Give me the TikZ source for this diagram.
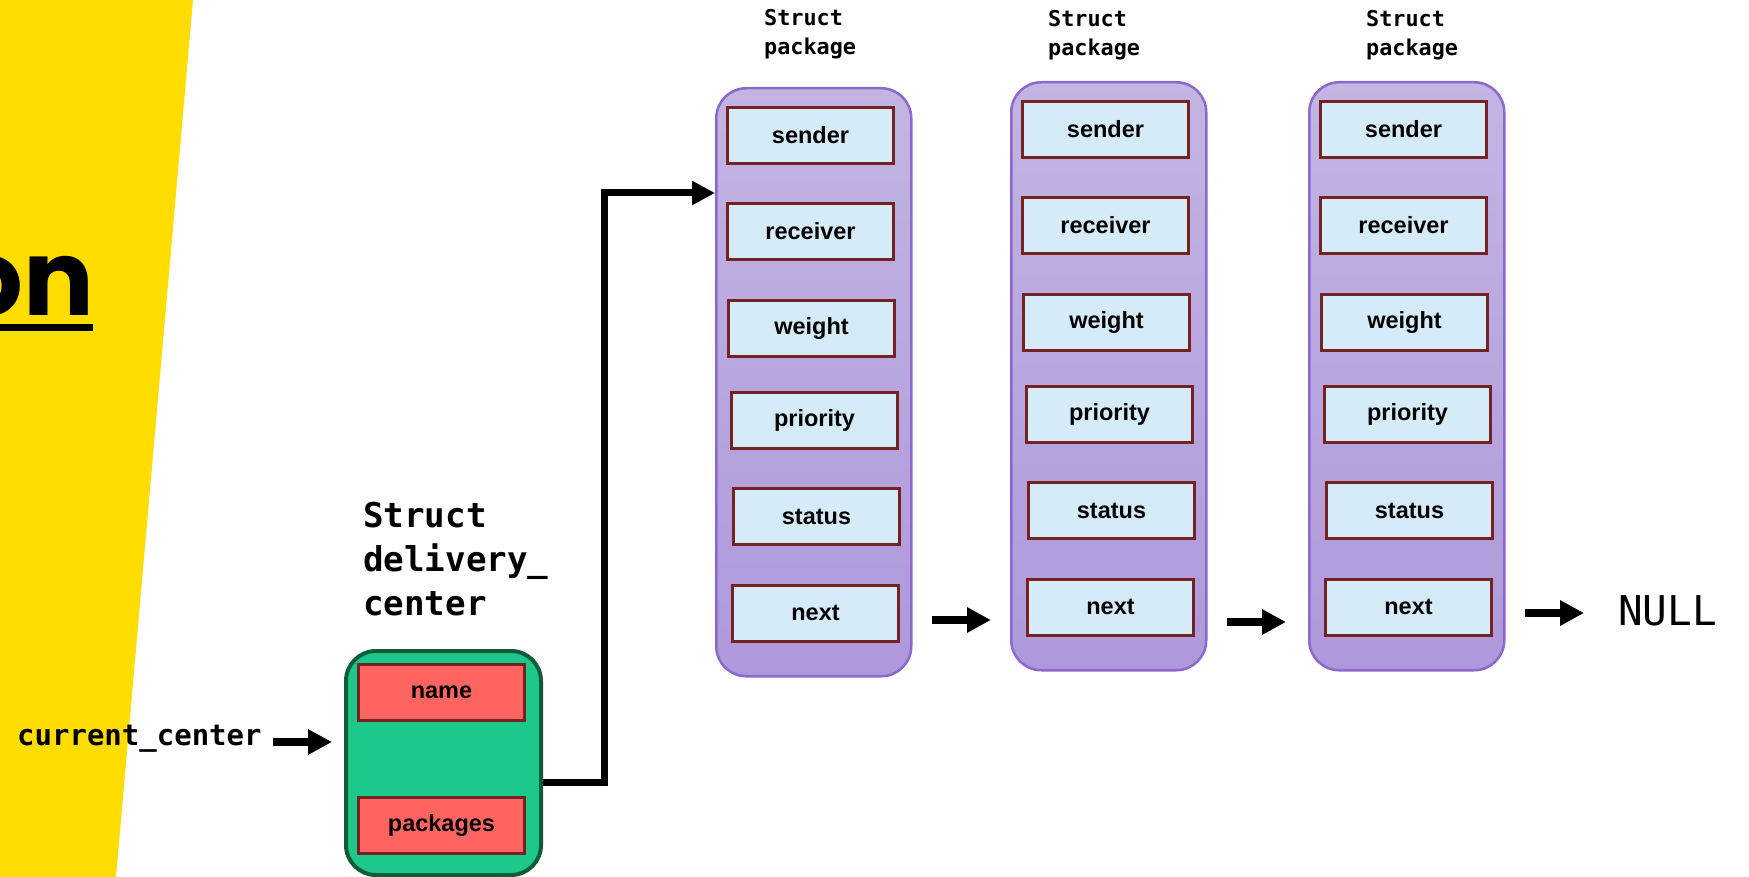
\documentclass[tikz,border=0pt]{standalone}
\usepackage{fontspec}
\setmainfont{Liberation Sans}
\newfontfamily\monob{DejaVu Sans Mono}
\newfontfamily\popp{Poppins}
\usetikzlibrary{arrows.meta,calc}
\definecolor{yel}{HTML}{FFDD00}
\definecolor{grfill}{HTML}{1DC98A}
\definecolor{grborder}{HTML}{0E5C3A}
\definecolor{redfill}{HTML}{FF6461}
\definecolor{fborder}{HTML}{742222}
\definecolor{ffill}{HTML}{D5ECF8}
\definecolor{ptop}{HTML}{C2B5E2}
\definecolor{pbot}{HTML}{AE98DB}
\definecolor{pborder}{HTML}{8C67CC}
\tikzset{
  field/.style={draw=fborder, line width=3pt, fill=ffill, minimum width=166pt, minimum height=56pt, inner sep=0pt, font=\bfseries\fontsize{23.5}{28}\selectfont},
  redfield/.style={field, fill=redfill},
  container/.style={draw=pborder, line width=2.5pt, top color=ptop, bottom color=pbot, rounded corners=30pt, minimum width=195pt, minimum height=588pt, anchor=north west, inner sep=0pt},
  greenbox/.style={draw=grborder, line width=4pt, fill=grfill, rounded corners=30pt, minimum width=195pt, minimum height=224pt, anchor=north west, inner sep=0pt},
  monolabel/.style={font=\monob\bfseries\fontsize{21.8}{29}\selectfont, align=left, inner sep=0pt, anchor=base west},
  bigarrow/.style={line width=8pt, -{Triangle[length=24pt,width=24pt]}},
  elbow/.style={line width=7pt, -{Triangle[length=23pt,width=23pt]}}
}
\begin{document}
\begin{tikzpicture}[x=1pt,y=-1pt]
\useasboundingbox (0,0) rectangle (1749,877);
% yellow band
\fill[yel] (0,0) -- (193,0) -- (116,877) -- (0,877) -- cycle;
\node[font=\popp\bfseries\fontsize{105}{110}\selectfont, anchor=base east, inner sep=0pt] (title) at (94,316) {on};
\fill (0,324) rectangle (93,331);

% containers
\node[container] (c1) at (715,87) {};
\node[container] (c2) at (1010,81) {};
\node[container] (c3) at (1308,81) {};
\foreach \c in {c1,c2,c3}{
  \foreach \f/\dx/\dy in {sender/95.5/48.5, receiver/95.5/144.5, weight/96.5/241.5, priority/99.5/333.5, status/101.5/429.5, next/100.5/526}{
    \node[field] (\c-\f) at ($(\c.north west)+(\dx,\dy)$) {\f};
  }
}
% labels
\node[monolabel] (l1) at (764,55) {Struct\\package};
\node[monolabel] (l2) at (1048,56) {Struct\\package};
\node[monolabel] (l3) at (1366,56) {Struct\\package};

% green box
\node[greenbox] (g) at (344,649) {};
\node[redfield] (gname) at (441.5,692) {name};
\node[redfield] (gpack) at (441.5,825.5) {packages};
\node[monolabel, font=\monob\bfseries\fontsize{34.2}{44}\selectfont] (gl) at (363,615) {Struct\\delivery\_\\center};

% current_center
\node[font=\monob\bfseries\fontsize{29}{34}\selectfont, anchor=base west, inner sep=0pt] (cc) at (17,745) {current\_center};
\coordinate (ccs) at (273,742);
\coordinate (cce) at (332,742);
\draw[bigarrow] (ccs) -- (cce);

% elbow connector
\coordinate (e0) at (g.east |- 0,782);
\coordinate (e1) at (604,782);
\coordinate (e2) at (604,193);
\coordinate (e3) at (c1.west |- 0,193);
\draw[elbow] (e0) -- (e1) -- (e2) -- (e3);

% arrows between
\coordinate (a1s) at (932,620); \coordinate (a1e) at (991,620);
\coordinate (a2s) at (1227,622); \coordinate (a2e) at (1286,622);
\coordinate (a3s) at (1525,613); \coordinate (a3e) at (1584,613);
\draw[bigarrow] (a1s) -- (a1e);
\draw[bigarrow] (a2s) -- (a2e);
\draw[bigarrow] (a3s) -- (a3e);
\node[font=\monob\fontsize{41}{45}\selectfont, anchor=base west, inner sep=0pt] (null) at (1618,625) {NULL};
\end{tikzpicture}
\end{document}
